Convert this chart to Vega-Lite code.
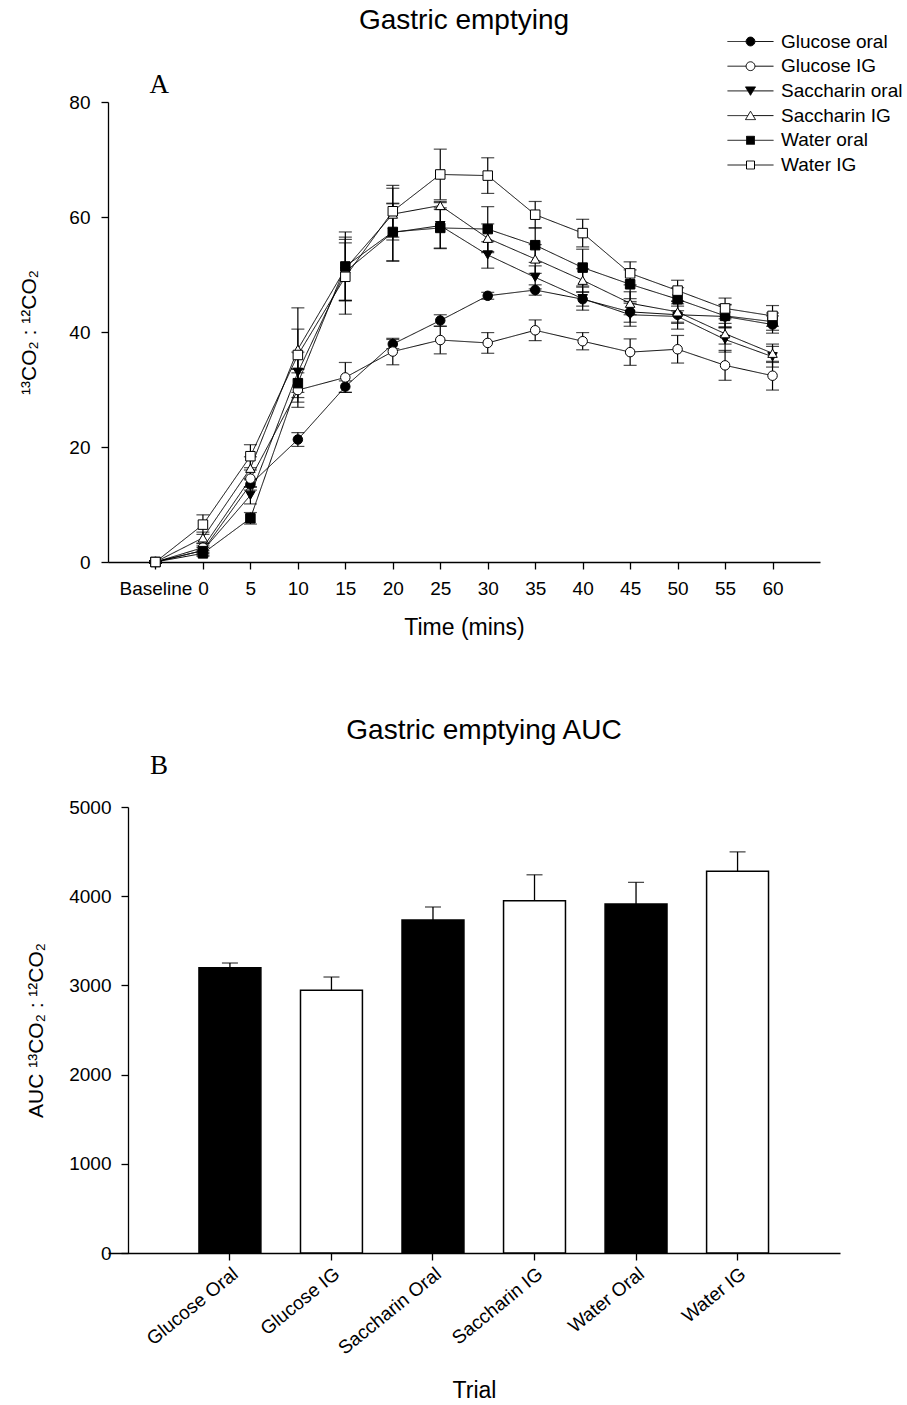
{
  "$schema": "https://vega.github.io/schema/vega-lite/v6.json",
  "background": "white",
  "padding": {"left": 18, "top": 6, "right": 5, "bottom": 0},
  "config": {
    "font": "Liberation Sans",
    "view": {"stroke": null},
    "axis": {"grid": false, "domainColor": "black", "tickColor": "black", "labelColor": "black", "titleColor": "black", "labelFontSize": 19, "titleFontSize": 21, "titleFontWeight": "normal", "domainWidth": 1.3, "tickWidth": 1.3, "tickSize": 7, "labelFont": "Liberation Sans", "titleFont": "Liberation Sans"},
    "title": {"fontSize": 28, "fontWeight": "normal", "font": "Liberation Sans", "color": "black", "anchor": "middle", "frame": "group"},
    "legend": {"labelFont": "Liberation Sans"}
  },
  "datasets": {
    "curves": [
      {"trial": "Glucose oral", "time": -5, "mean": 0.0, "sem": 0.2},
      {"trial": "Glucose oral", "time": 0, "mean": 2.0, "sem": 0.5},
      {"trial": "Glucose oral", "time": 5, "mean": 13.5, "sem": 1.0},
      {"trial": "Glucose oral", "time": 10, "mean": 21.3, "sem": 1.2},
      {"trial": "Glucose oral", "time": 15, "mean": 30.5, "sem": 1.0},
      {"trial": "Glucose oral", "time": 20, "mean": 37.9, "sem": 0.8},
      {"trial": "Glucose oral", "time": 25, "mean": 42.0, "sem": 1.0},
      {"trial": "Glucose oral", "time": 30, "mean": 46.3, "sem": 0.6},
      {"trial": "Glucose oral", "time": 35, "mean": 47.3, "sem": 0.9},
      {"trial": "Glucose oral", "time": 40, "mean": 45.7, "sem": 1.2},
      {"trial": "Glucose oral", "time": 45, "mean": 43.5, "sem": 1.8},
      {"trial": "Glucose oral", "time": 50, "mean": 43.0, "sem": 1.5},
      {"trial": "Glucose oral", "time": 55, "mean": 42.7, "sem": 2.0},
      {"trial": "Glucose oral", "time": 60, "mean": 41.3, "sem": 1.5},
      {"trial": "Glucose IG", "time": -5, "mean": 0.0, "sem": 0.2},
      {"trial": "Glucose IG", "time": 0, "mean": 2.5, "sem": 0.8},
      {"trial": "Glucose IG", "time": 5, "mean": 14.5, "sem": 1.5},
      {"trial": "Glucose IG", "time": 10, "mean": 29.9, "sem": 3.0},
      {"trial": "Glucose IG", "time": 15, "mean": 32.1, "sem": 2.6},
      {"trial": "Glucose IG", "time": 20, "mean": 36.6, "sem": 2.3},
      {"trial": "Glucose IG", "time": 25, "mean": 38.6, "sem": 2.4},
      {"trial": "Glucose IG", "time": 30, "mean": 38.1, "sem": 1.8},
      {"trial": "Glucose IG", "time": 35, "mean": 40.3, "sem": 1.8},
      {"trial": "Glucose IG", "time": 40, "mean": 38.4, "sem": 1.5},
      {"trial": "Glucose IG", "time": 45, "mean": 36.5, "sem": 2.3},
      {"trial": "Glucose IG", "time": 50, "mean": 37.0, "sem": 2.4},
      {"trial": "Glucose IG", "time": 55, "mean": 34.2, "sem": 2.6},
      {"trial": "Glucose IG", "time": 60, "mean": 32.4, "sem": 2.5},
      {"trial": "Saccharin oral", "time": -5, "mean": 0.0, "sem": 0.2},
      {"trial": "Saccharin oral", "time": 0, "mean": 2.0, "sem": 0.8},
      {"trial": "Saccharin oral", "time": 5, "mean": 11.6, "sem": 1.5},
      {"trial": "Saccharin oral", "time": 10, "mean": 33.0, "sem": 3.5},
      {"trial": "Saccharin oral", "time": 15, "mean": 50.5, "sem": 5.0},
      {"trial": "Saccharin oral", "time": 20, "mean": 57.3, "sem": 5.0},
      {"trial": "Saccharin oral", "time": 25, "mean": 58.5, "sem": 4.0},
      {"trial": "Saccharin oral", "time": 30, "mean": 53.4, "sem": 2.3},
      {"trial": "Saccharin oral", "time": 35, "mean": 49.5, "sem": 2.0},
      {"trial": "Saccharin oral", "time": 40, "mean": 45.8, "sem": 2.0},
      {"trial": "Saccharin oral", "time": 45, "mean": 43.0, "sem": 2.0},
      {"trial": "Saccharin oral", "time": 50, "mean": 42.7, "sem": 2.2},
      {"trial": "Saccharin oral", "time": 55, "mean": 38.7, "sem": 2.2},
      {"trial": "Saccharin oral", "time": 60, "mean": 35.7, "sem": 1.8},
      {"trial": "Saccharin IG", "time": -5, "mean": 0.0, "sem": 0.2},
      {"trial": "Saccharin IG", "time": 0, "mean": 4.2, "sem": 1.0},
      {"trial": "Saccharin IG", "time": 5, "mean": 16.3, "sem": 2.0},
      {"trial": "Saccharin IG", "time": 10, "mean": 37.0, "sem": 3.5},
      {"trial": "Saccharin IG", "time": 15, "mean": 51.0, "sem": 5.5},
      {"trial": "Saccharin IG", "time": 20, "mean": 60.5, "sem": 4.5},
      {"trial": "Saccharin IG", "time": 25, "mean": 62.0, "sem": 0.7},
      {"trial": "Saccharin IG", "time": 30, "mean": 56.3, "sem": 2.5},
      {"trial": "Saccharin IG", "time": 35, "mean": 52.7, "sem": 2.5},
      {"trial": "Saccharin IG", "time": 40, "mean": 49.0, "sem": 2.0},
      {"trial": "Saccharin IG", "time": 45, "mean": 45.0, "sem": 2.0},
      {"trial": "Saccharin IG", "time": 50, "mean": 43.5, "sem": 1.8},
      {"trial": "Saccharin IG", "time": 55, "mean": 39.7, "sem": 1.8},
      {"trial": "Saccharin IG", "time": 60, "mean": 36.3, "sem": 1.6},
      {"trial": "Water oral", "time": -5, "mean": 0.0, "sem": 0.2},
      {"trial": "Water oral", "time": 0, "mean": 1.5, "sem": 0.5},
      {"trial": "Water oral", "time": 5, "mean": 7.6, "sem": 1.0},
      {"trial": "Water oral", "time": 10, "mean": 31.1, "sem": 2.5},
      {"trial": "Water oral", "time": 15, "mean": 51.4, "sem": 6.0},
      {"trial": "Water oral", "time": 20, "mean": 57.4, "sem": 5.0},
      {"trial": "Water oral", "time": 25, "mean": 58.1, "sem": 3.5},
      {"trial": "Water oral", "time": 30, "mean": 57.9, "sem": 3.9},
      {"trial": "Water oral", "time": 35, "mean": 55.1, "sem": 3.0},
      {"trial": "Water oral", "time": 40, "mean": 51.2, "sem": 3.2},
      {"trial": "Water oral", "time": 45, "mean": 48.3, "sem": 2.5},
      {"trial": "Water oral", "time": 50, "mean": 45.7, "sem": 2.0},
      {"trial": "Water oral", "time": 55, "mean": 42.8, "sem": 2.0},
      {"trial": "Water oral", "time": 60, "mean": 41.8, "sem": 1.5},
      {"trial": "Water IG", "time": -5, "mean": 0.0, "sem": 0.2},
      {"trial": "Water IG", "time": 0, "mean": 6.5, "sem": 1.7},
      {"trial": "Water IG", "time": 5, "mean": 18.4, "sem": 2.0},
      {"trial": "Water IG", "time": 10, "mean": 36.0, "sem": 8.2},
      {"trial": "Water IG", "time": 15, "mean": 49.6, "sem": 6.5},
      {"trial": "Water IG", "time": 20, "mean": 61.0, "sem": 4.5},
      {"trial": "Water IG", "time": 25, "mean": 67.4, "sem": 4.4},
      {"trial": "Water IG", "time": 30, "mean": 67.2, "sem": 3.1},
      {"trial": "Water IG", "time": 35, "mean": 60.4, "sem": 2.3},
      {"trial": "Water IG", "time": 40, "mean": 57.2, "sem": 2.4},
      {"trial": "Water IG", "time": 45, "mean": 50.2, "sem": 2.0},
      {"trial": "Water IG", "time": 50, "mean": 47.2, "sem": 1.8},
      {"trial": "Water IG", "time": 55, "mean": 44.1, "sem": 1.8},
      {"trial": "Water IG", "time": 60, "mean": 42.8, "sem": 1.8}
    ],
    "auc": [
      {"name": "Glucose Oral", "route": "oral", "auc": 3198, "cap": 3251},
      {"name": "Glucose IG", "route": "IG", "auc": 2945, "cap": 3094},
      {"name": "Saccharin Oral", "route": "oral", "auc": 3733, "cap": 3879},
      {"name": "Saccharin IG", "route": "IG", "auc": 3949, "cap": 4240},
      {"name": "Water Oral", "route": "oral", "auc": 3912, "cap": 4155},
      {"name": "Water IG", "route": "IG", "auc": 4281, "cap": 4497}
    ]
  },
  "spacing": 78,
  "vconcat": [
    {
      "width": 712,
      "height": 460,
      "title": {"text": "Gastric emptying", "offset": 36},
      "layer": [
        {
          "data": {"name": "curves"},
          "encoding": {
            "x": {"field": "time", "type": "quantitative", "scale": {"domain": [-10, 65], "nice": false, "zero": false},
              "axis": {"values": [-5, 0, 5, 10, 15, 20, 25, 30, 35, 40, 45, 50, 55, 60], "labelExpr": "datum.value == -5 ? 'Baseline' : datum.label", "title": "Time (mins)", "titleFontSize": 23, "labelPadding": 10, "titlePadding": 18, "labelFlush": false, "labelOverlap": false}},
            "y": {"field": "mean", "type": "quantitative", "scale": {"domain": [0, 80], "nice": false},
              "axis": {"values": [0, 20, 40, 60, 80], "title": "¹³CO₂ : ¹²CO₂", "labelPadding": 11, "titlePadding": 29}}
          },
          "layer": [
            {"mark": {"type": "errorbar", "color": "black", "thickness": 1.2, "ticks": {"size": 13, "thickness": 1.2}},
             "encoding": {"yError": {"field": "sem"}, "detail": {"field": "trial", "type": "nominal"}}},
            {"mark": {"type": "line", "color": "black", "strokeWidth": 1},
             "encoding": {
               "detail": {"field": "trial", "type": "nominal"},
               "strokeDash": {"field": "trial", "type": "nominal", "sort": null,
                 "scale": {"range": [[1, 0], [1, 0], [1, 0], [1, 0], [1, 0], [1, 0]]},
                 "legend": {"title": null, "orient": "none", "legendX": 614, "legendY": -70, "padding": 0, "labelFontSize": 19, "labelColor": "black", "rowPadding": 4.7, "symbolSize": 64, "symbolOffset": 19, "labelOffset": 21,
                   "encoding": {"symbols": {"size": {"value": 64}, "strokeWidth": {"value": 1}, "stroke": {"value": "black"}, "opacity": {"value": 1},
                     "fill": {"value": {"expr": "datum.value === 'Glucose oral' || datum.value === 'Saccharin oral' || datum.value === 'Water oral' ? 'black' : 'white'"}},
                     "shape": {"value": {"expr": "datum.value === 'Glucose oral' || datum.value === 'Glucose IG' ? 'M-5.75,0H-1.1M1.1,0H5.75M-1.1,0A1.1,1.1,0,1,0,1.1,0A1.1,1.1,0,1,0,-1.1,0Z' : datum.value === 'Saccharin oral' ? 'M-5.75,0H-0.65M0.65,0H5.75M-1.25,-1L1.25,-1L0,1.1Z' : datum.value === 'Saccharin IG' ? 'M-5.75,0H-0.65M0.65,0H5.75M-1.25,1L1.25,1L0,-1.1Z' : 'M-5.75,0H-1M1,0H5.75M-1,-1H1V1H-1Z'"}}}}}}
             }},
            {"mark": {"type": "point", "filled": true, "opacity": 1, "size": 90, "stroke": "black", "strokeWidth": 1},
             "encoding": {
               "shape": {"field": "trial", "type": "nominal", "legend": null,
                 "scale": {"domain": ["Glucose oral", "Glucose IG", "Saccharin oral", "Saccharin IG", "Water oral", "Water IG"], "range": ["circle", "circle", "triangle-down", "triangle-up", "square", "square"]}},
               "fill": {"field": "trial", "type": "nominal", "legend": null,
                 "scale": {"domain": ["Glucose oral", "Glucose IG", "Saccharin oral", "Saccharin IG", "Water oral", "Water IG"], "range": ["black", "white", "black", "white", "black", "white"]}}
             }}
          ]
        },
        {"data": {"values": [{"panel": "A"}]},
         "mark": {"type": "text", "font": "Liberation Serif", "fontSize": 27, "color": "black", "baseline": "middle", "align": "center", "clip": false},
         "encoding": {"x": {"datum": -4.6, "type": "quantitative"}, "y": {"datum": 83, "type": "quantitative"}, "text": {"field": "panel", "type": "nominal"}}}
      ]
    },
    {
      "width": 732,
      "height": 446,
      "title": {"text": "Gastric emptying AUC", "offset": 7, "dx": 10},
      "layer": [
        {
          "data": {"name": "auc"},
          "encoding": {
            "x": {"field": "name", "type": "nominal", "sort": null,
              "scale": {"domain": ["Glucose Oral", "Glucose IG", "Saccharin Oral", "Saccharin IG", "Water Oral", "Water IG"], "paddingInner": 0.39, "paddingOuter": 0.8, "align": 0.56},
              "axis": {"title": "Trial", "titleFontSize": 23, "labelAngle": -39, "labelAlign": "right", "labelBaseline": "top", "labelPadding": 4, "titlePadding": 22}},
            "y": {"field": "auc", "type": "quantitative", "scale": {"domain": [0, 5000], "nice": false},
              "axis": {"values": [0, 1000, 2000, 3000, 4000, 5000], "format": "d", "offset": -20, "title": "AUC ¹³CO₂ : ¹²CO₂", "labelPadding": 10, "titlePadding": 22}}
          },
          "layer": [
            {"mark": {"type": "bar", "stroke": "black", "strokeWidth": 1.5},
             "encoding": {"fill": {"condition": {"test": "datum.route === 'oral'", "value": "black"}, "value": "white"}}},
            {"mark": {"type": "rule", "color": "black", "strokeWidth": 1.3},
             "encoding": {"y2": {"field": "cap"}}},
            {"mark": {"type": "tick", "color": "black", "thickness": 1.3, "size": 16},
             "encoding": {"y": {"field": "cap", "type": "quantitative"}}}
          ]
        },
        {"data": {"values": [{"panel": "B"}]},
         "mark": {"type": "text", "font": "Liberation Serif", "fontSize": 27, "color": "black", "baseline": "middle", "align": "center", "dx": -71, "clip": false},
         "encoding": {"x": {"datum": "Glucose Oral", "type": "nominal"}, "y": {"datum": 5457, "type": "quantitative"}, "text": {"field": "panel", "type": "nominal"}}}
      ]
    }
  ]
}
